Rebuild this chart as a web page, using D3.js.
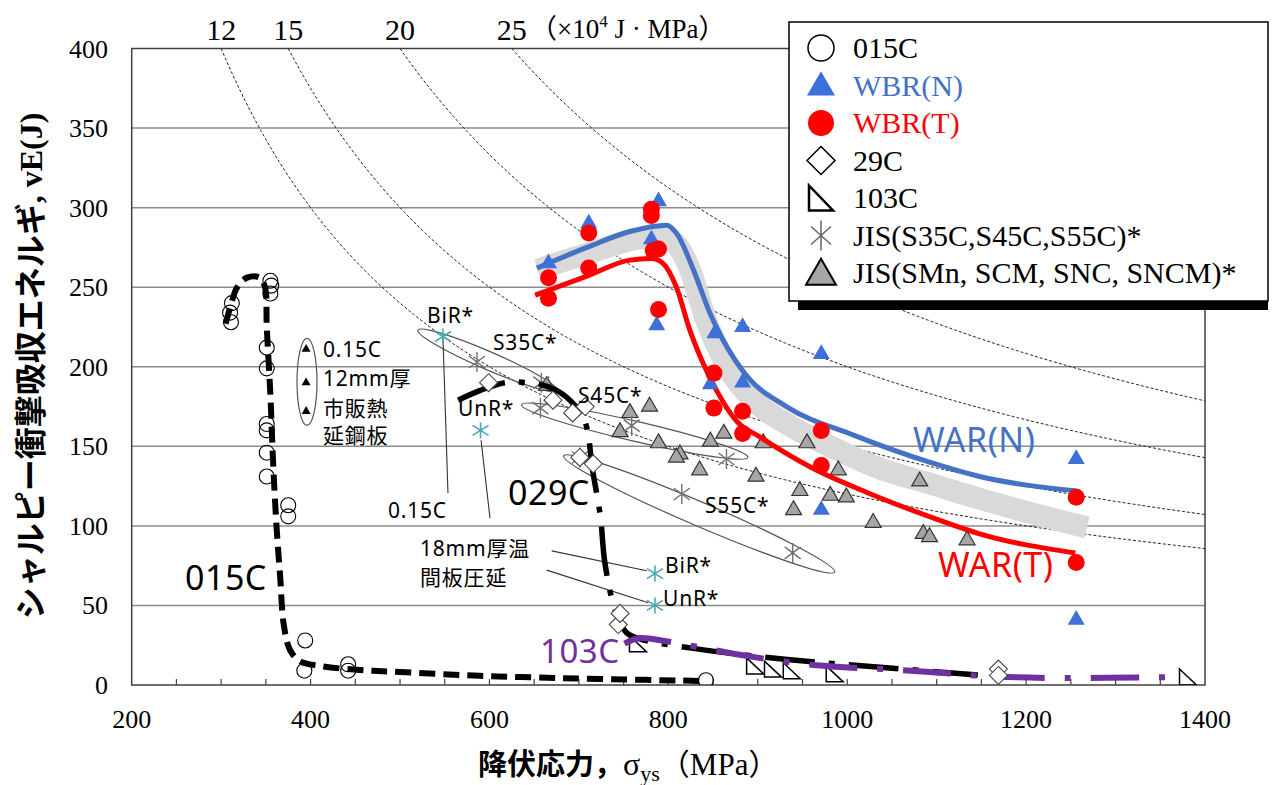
<!DOCTYPE html>
<html>
<head>
<meta charset="utf-8">
<script src="https://cdn.jsdelivr.net/npm/d3@7"></script>
<style>
  body { margin: 0; background: #fff; }
  svg { display: block; }
</style>
</head>
<body>
<svg id="chart" width="1276" height="785"></svg>
<script>
// ---- data: [yield stress σys (MPa), Charpy energy vE (J)] ----
const xTicks = [200, 400, 600, 800, 1000, 1200, 1400];
const yTicks = [0, 50, 100, 150, 200, 250, 300, 350, 400];
const isoLevels = [12, 15, 20, 25];          // ×10^4 J·MPa

const c015 = [[312,240],[310,234],[311,228],[355,254],[356,251],[355,246],[351,212],[351,199],
  [351,164],[351,160],[351,146],[351,131],[375,113],[375,106],[394,28],[393,9],[442,13],[442,9],[842,3]];
const wbrN = [[666,265],[711,290],[781,280],[789,304],[787,226],[852,221],[883,225],[971,208],
  [847,189],[883,190],[971,110],[1256,142],[1256,41]];
const wbrT = [[666,256],[666,243],[711,284],[711,262],[781,299],[781,295],[783,273],[789,274],[789,236],
  [851,196],[851,174],[883,172],[883,158],[971,160],[971,138],[1256,118],[1256,77]];
const c29 = [[599,190],[671,179],[693,171],[707,175],[701,143],[716,139],[744,38],[746,45],[1169,10],[1169,6]];
const t103 = [[766,26],[897,12],[917,10],[938,9],[986,7],[1381,5]];
const jisCarbon = [[586,203],[658,190],[657,174],[701,143],[759,163],[815,120],[865,142],[939,83]];
const jisHot = [[548,219],[590,160],[785,70],[785,50]];
const jisAlloy = [[664,188],[757,171],[779,175],[746,159],[789,152],[813,145],[809,143],[835,135],
  [847,153],[862,158],[906,152],[898,131],[955,152],[990,135],[947,122],[981,119],[999,118],
  [940,110],[1029,102],[1081,128],[1085,95],[1092,93],[1134,91]];
const plate12 = [[395,211],[395,190],[395,172]];

// trend curves
const curve015 = [[305,227],[310,237],[318,250],[329,256],[343,256],[349,250],[351,225],[355,183],
  [358,141],[362,99],[366,68],[370,38],[377,22],[388,15],[410,12],[455,9.4],[500,8.2],[567,6.3],
  [634,5],[724,3.8],[842,2.5]];
const curve029 = [[565,179],[589,185],[617,190],[642,190],[668,187],[690,179],[707,165],[715,136],
  [724,106],[729,77],[740,48],[753,33],[768,29],[828,23],[933,16],[1040,11],[1146,6.3]];
const curve103 = [[751,26],[768,29.5],[796,27.6],[832,24],[880,19],[939,14],[992,11.3],[1040,10],
  [1092,8.2],[1152,5.7],[1230,4.4],[1366,5]];
const warN = [[653,262],[709,275],[757,285],[798,289],[809,284],[828,261],[847,233],[861,217],
  [888,194],[932,175],[1007,157],[1092,140],[1148,131],[1257,122]];
const warT = [[651,245],[709,257],[757,267],[781,268],[794,265],[809,250],[824,223],[839,202],
  [854,185],[876,166],[902,156],[962,136],[1022,121],[1096,105],[1148,95],[1255,83]];
const band = [[654,261],[709,271],[779,281],[804,279],[822,264],[843,228],[866,200],[895,179],
  [933,164],[981,150],[1037,136],[1096,126],[1148,117],[1268,99]];

const legendItems = [
  { label: "015C", mark: "circleOpen", color: "#000" },
  { label: "WBR(N)", mark: "triBlue", color: "#4472c4" },
  { label: "WBR(T)", mark: "circleRed", color: "#ff0000" },
  { label: "29C", mark: "diamond", color: "#000" },
  { label: "103C", mark: "rightTri", color: "#000" },
  { label: "JIS(S35C,S45C,S55C)*", mark: "aster", color: "#000" },
  { label: "JIS(SMn, SCM, SNC, SNCM)*", mark: "triGrey", color: "#000" }
];

// ---- scales ----
const svg = d3.select("#chart");
const x = d3.scaleLinear().domain([200, 1400]).range([131.7, 1205]);
const y = d3.scaleLinear().domain([0, 400]).range([685, 48.5]);
const serif = "'Liberation Serif', 'DejaVu Serif', serif";
const sans = "'Noto Sans', 'Noto Sans CJK JP', sans-serif";
const cjk = "'Noto Sans CJK JP', 'Noto Sans', sans-serif";

const BLUE = "#3d70d8", RED = "#ff0000", GREY = "#a6a6a6", CYAN = "#4aa8b4", PURPLE = "#7030a0";

// shape helpers
function triPath(s) {
  const h = s * Math.sqrt(3) / 2;
  return `M0,${-h * 2 / 3}L${s / 2},${h / 3}L${-s / 2},${h / 3}Z`;
}
function diamondPath(r) { return `M0,${-r}L${r},0L0,${r}L${-r},0Z`; }
function rightTriPath(w, h) { return `M${-w / 2},${-h / 2}L${w / 2},${h / 2}L${-w / 2},${h / 2}Z`; }
function asterPath(hh, dx, dy) { return `M0,${-hh}V${hh}M${-dx},${-dy}L${dx},${dy}M${-dx},${dy}L${dx},${-dy}`; }

// ---- grid & frame ----
const g = svg.append("g");
g.selectAll(".grid").data(yTicks.filter(d => d > 0 && d < 400)).join("line")
  .attr("x1", x(200)).attr("x2", x(1400))
  .attr("y1", d => y(d)).attr("y2", d => y(d))
  .attr("stroke", "#8c8c8c").attr("stroke-width", 1.5);

// x axis minor ticks (every 50 MPa)
g.selectAll(".xt").data(d3.range(250, 1400, 50)).join("line")
  .attr("x1", d => x(d)).attr("x2", d => x(d))
  .attr("y1", y(0)).attr("y2", y(0) - 6)
  .attr("stroke", "#404040").attr("stroke-width", 1.2);

g.append("rect").attr("x", x(200)).attr("y", y(400))
  .attr("width", x(1400) - x(200)).attr("height", y(0) - y(400))
  .attr("fill", "none").attr("stroke", "#404040").attr("stroke-width", 1.5);

// tick labels
g.selectAll(".yl").data(yTicks).join("text")
  .attr("x", 108).attr("y", d => y(d) + 9)
  .attr("text-anchor", "end").attr("font-family", serif).attr("font-size", 26)
  .text(d => d);
g.selectAll(".xl").data(xTicks).join("text")
  .attr("x", d => x(d)).attr("y", 728)
  .attr("text-anchor", "middle").attr("font-family", serif).attr("font-size", 26)
  .text(d => d);

// ---- iso product lines vE·σ = const ----
svg.append("clipPath").attr("id", "plotclip").append("rect")
  .attr("x", x(200)).attr("y", y(400)).attr("width", x(1400) - x(200)).attr("height", y(0) - y(400));
const plot = svg.append("g").attr("clip-path", "url(#plotclip)");
const line = d3.line().x(d => x(d[0])).y(d => y(d[1]));
isoLevels.forEach(k => {
  const s0 = k * 1e4 / 400;
  const pts = d3.range(s0, 1401, 5).map(s => [s, k * 1e4 / s]);
  plot.append("path").attr("d", line(pts))
    .attr("fill", "none").attr("stroke", "#222").attr("stroke-width", 1)
    .attr("stroke-dasharray", "3,2");
  g.append("text").attr("x", x(s0)).attr("y", 40)
    .attr("text-anchor", "middle").attr("font-family", serif).attr("font-size", 30)
    .text(k);
});
const unit = g.append("text").attr("x", 530).attr("y", 38)
  .attr("font-family", serif).attr("font-size", 27);
unit.append("tspan").attr("font-family", cjk).text("（");
unit.append("tspan").text("×10");
unit.append("tspan").attr("font-size", 17).attr("dy", -11).text("4");
unit.append("tspan").attr("dy", 11).text(" J · MPa");
unit.append("tspan").attr("font-family", cjk).text("）");

// ---- ellipses and leader lines ----
function ellipse(p0, p1, half) {
  const x0 = x(p0[0]), y0 = y(p0[1]), x1 = x(p1[0]), y1 = y(p1[1]);
  const cx = (x0 + x1) / 2, cy = (y0 + y1) / 2;
  const len = Math.hypot(x1 - x0, y1 - y0) / 2;
  const ang = Math.atan2(y1 - y0, x1 - x0) * 180 / Math.PI;
  plot.append("ellipse").attr("cx", 0).attr("cy", 0).attr("rx", len).attr("ry", half)
    .attr("transform", `translate(${cx},${cy}) rotate(${ang})`)
    .attr("fill", "none").attr("stroke", "#555").attr("stroke-width", 1.2);
}
ellipse([520, 223], [676, 185], 9);
ellipse([636, 176], [889, 143], 10);
ellipse([683, 144], [986, 71], 12);
plot.append("ellipse").attr("cx", x(396)).attr("cy", y(190.5)).attr("rx", 10).attr("ry", 43.5)
  .attr("fill", "none").attr("stroke", "#555").attr("stroke-width", 1.2);

const leaders = [
  [[553.6, 120.6], [548, 218.5]],
  [[590.6, 153.8], [600.6, 104.9]],
  [[669.6, 84.3], [775.8, 71.8]],
  [[664, 72.2], [777.6, 51.7]]
];
leaders.forEach(l => plot.append("path").attr("d", line(l))
  .attr("stroke", "#333").attr("stroke-width", 1.1).attr("fill", "none"));

// ---- grey band between WAR(N) and WAR(T) ----
const smooth = d3.line().x(d => x(d[0])).y(d => y(d[1])).curve(d3.curveCatmullRom.alpha(0.5));
const mono = d3.line().x(d => x(d[0])).y(d => y(d[1])).curve(d3.curveMonotoneX);
plot.append("path").attr("d", mono(band))
  .attr("fill", "none").attr("stroke", "#d9d9d9").attr("stroke-width", 22);

// ---- JIS markers ----
plot.selectAll(".alloy").data(jisAlloy).join("path")
  .attr("transform", d => `translate(${x(d[0])},${y(d[1])})`)
  .attr("d", triPath(16)).attr("fill", GREY).attr("stroke", "#333").attr("stroke-width", 1.2);
plot.selectAll(".carb").data(jisCarbon).join("path")
  .attr("transform", d => `translate(${x(d[0])},${y(d[1])})`)
  .attr("d", asterPath(10, 8, 6)).attr("fill", "none").attr("stroke", "#707070").attr("stroke-width", 1.4);
plot.selectAll(".hot").data(jisHot).join("path")
  .attr("transform", d => `translate(${x(d[0])},${y(d[1])})`)
  .attr("d", asterPath(8, 8, 5)).attr("fill", "none").attr("stroke", CYAN).attr("stroke-width", 1.6);
plot.selectAll(".p12").data(plate12).join("path")
  .attr("transform", d => `translate(${x(d[0])},${y(d[1])})`)
  .attr("d", triPath(9)).attr("fill", "#000");

// 103C markers
plot.selectAll(".t103").data(t103).join("path")
  .attr("transform", d => `translate(${x(d[0])},${y(d[1])})`)
  .attr("d", rightTriPath(17, 16)).attr("fill", "none").attr("stroke", "#000").attr("stroke-width", 1.5);

// ---- trend curves ----
plot.append("path").attr("d", smooth(curve015))
  .attr("fill", "none").attr("stroke", "#000").attr("stroke-width", 6).attr("stroke-dasharray", "16,8");
plot.append("path").attr("d", smooth(curve029))
  .attr("fill", "none").attr("stroke", "#000").attr("stroke-width", 5.5).attr("stroke-dasharray", "50,14,6,14");
plot.append("path").attr("d", smooth(curve103))
  .attr("fill", "none").attr("stroke", PURPLE).attr("stroke-width", 6).attr("stroke-dasharray", "48,20,6,20");

// 015C circles, 29C diamonds
plot.selectAll(".c015").data(c015).join("circle")
  .attr("cx", d => x(d[0])).attr("cy", d => y(d[1])).attr("r", 7.5)
  .attr("fill", "none").attr("stroke", "#000").attr("stroke-width", 1.1);
plot.selectAll(".c29").data(c29).join("path")
  .attr("transform", d => `translate(${x(d[0])},${y(d[1])})`)
  .attr("d", diamondPath(9)).attr("fill", "#fff").attr("stroke", "#444").attr("stroke-width", 1.1);

// WAR curves
plot.append("path").attr("d", mono(warN))
  .attr("fill", "none").attr("stroke", "#4472c4").attr("stroke-width", 5);
plot.append("path").attr("d", mono(warT))
  .attr("fill", "none").attr("stroke", RED).attr("stroke-width", 5);

plot.selectAll(".wn").data(wbrN).join("path")
  .attr("transform", d => `translate(${x(d[0])},${y(d[1])})`)
  .attr("d", triPath(17)).attr("fill", BLUE);
plot.selectAll(".wt").data(wbrT).join("circle")
  .attr("cx", d => x(d[0])).attr("cy", d => y(d[1])).attr("r", 8.5).attr("fill", RED);

// ---- annotation texts ----
const notes = [
  { t: "BiR*", x: 427, y: 323, s: 21 },
  { t: "S35C*", x: 493, y: 350, s: 21 },
  { t: "UnR*", x: 458, y: 416, s: 21 },
  { t: "S45C*", x: 578, y: 403, s: 21 },
  { t: "0.15C", x: 388, y: 518, s: 21 },
  { t: "18mm厚温", x: 420, y: 556, s: 21 },
  { t: "間板圧延", x: 420, y: 585, s: 21 },
  { t: "S55C*", x: 705, y: 513, s: 21 },
  { t: "BiR*", x: 665, y: 573, s: 21 },
  { t: "UnR*", x: 663, y: 606, s: 21 },
  { t: "0.15C", x: 323, y: 357, s: 21 },
  { t: "12mm厚", x: 323, y: 386, s: 21 },
  { t: "市販熱", x: 323, y: 416, s: 21 },
  { t: "延鋼板", x: 323, y: 443, s: 21 },
  { t: "029C", x: 508, y: 505, s: 34 },
  { t: "015C", x: 185, y: 590, s: 34 },
  { t: "103C", x: 540, y: 663, s: 33, c: PURPLE },
  { t: "WAR(N)", x: 913, y: 452, s: 34, c: "#4472c4" },
  { t: "WAR(T)", x: 938, y: 577, s: 34, c: RED }
];
svg.selectAll(".note").data(notes).join("text")
  .attr("x", d => d.x).attr("y", d => d.y)
  .attr("font-family", sans).attr("font-size", d => d.s)
  .attr("fill", d => d.c || "#000").attr("letter-spacing", d => d.s > 30 ? 0.5 : 0.8)
  .text(d => d.t);

// ---- axis titles ----
svg.append("text").attr("transform", "translate(42,366) rotate(-90)")
  .attr("text-anchor", "middle").attr("font-size", 32).attr("font-weight", "bold")
  .call(t => {
    t.append("tspan").attr("font-family", cjk).text("シャルピー衝撃吸収エネルギ");
    t.append("tspan").attr("font-family", serif).text(", vE(J)");
  });
const xt = svg.append("text").attr("x", 478).attr("y", 775).attr("font-size", 29);
xt.append("tspan").attr("font-family", cjk).attr("font-weight", "bold").text("降伏応力，");
xt.append("tspan").attr("font-family", serif).attr("font-size", 32).text("σ");
xt.append("tspan").attr("font-family", serif).attr("font-size", 22).attr("dy", 6).text("ys");
xt.append("tspan").attr("font-family", cjk).attr("font-size", 30).attr("dy", -6).text("（");
xt.append("tspan").attr("font-family", serif).attr("font-size", 31).text("MPa");
xt.append("tspan").attr("font-family", cjk).attr("font-size", 30).text("）");

// ---- legend ----
const lg = svg.append("g");
lg.append("rect").attr("x", 798).attr("y", 301).attr("width", 470).attr("height", 9).attr("fill", "#000");
lg.append("rect").attr("x", 789).attr("y", 22).attr("width", 479).attr("height", 279)
  .attr("fill", "#fff").attr("stroke", "#000").attr("stroke-width", 1.5);
const rowY = d3.scaleLinear().domain([0, 6]).range([48, 273]);
legendItems.forEach((it, i) => {
  const cy = rowY(i);
  const m = lg.append("g").attr("transform", `translate(821,${cy})`);
  if (it.mark === "circleOpen") m.append("circle").attr("r", 13).attr("fill", "none").attr("stroke", "#000").attr("stroke-width", 1.5);
  if (it.mark === "triBlue") m.append("path").attr("d", triPath(28)).attr("fill", BLUE).attr("transform", "translate(0,2)");
  if (it.mark === "circleRed") m.append("circle").attr("r", 13).attr("fill", RED);
  if (it.mark === "diamond") m.append("path").attr("d", diamondPath(14)).attr("fill", "#fff").attr("stroke", "#000").attr("stroke-width", 1.5);
  if (it.mark === "rightTri") m.append("path").attr("d", rightTriPath(24, 25)).attr("fill", "none").attr("stroke", "#000").attr("stroke-width", 2.5);
  if (it.mark === "aster") m.append("path").attr("d", asterPath(15, 10, 9)).attr("fill", "none").attr("stroke", "#666").attr("stroke-width", 1.5);
  if (it.mark === "triGrey") m.append("path").attr("d", triPath(30)).attr("fill", GREY).attr("stroke", "#000").attr("stroke-width", 2).attr("transform", "translate(0,3)");
  lg.append("text").attr("x", 853).attr("y", cy + 10)
    .attr("font-family", serif).attr("font-size", 30).attr("fill", it.color)
    .text(it.label);
});
</script>
</body>
</html>
